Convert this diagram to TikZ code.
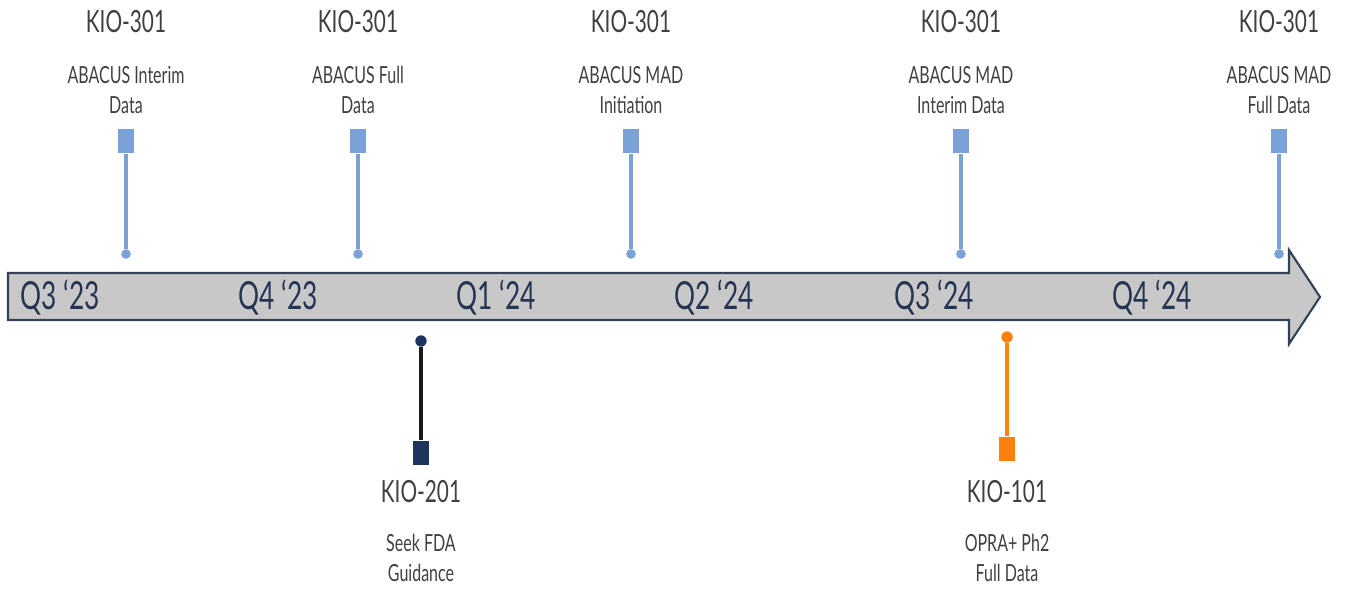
\documentclass[tikz,border=0pt]{standalone}
\usepackage{fontspec}
\setmainfont{Lato}[FakeStretch=0.68]
\usetikzlibrary{positioning, calc}

\definecolor{mileblue}{RGB}{122,162,214}
\definecolor{milenavy}{RGB}{31,52,92}
\definecolor{mileorange}{RGB}{255,128,10}
\definecolor{bargray}{RGB}{200,200,200}
\definecolor{barline}{RGB}{52,66,88}
\definecolor{qtext}{RGB}{38,52,84}
\definecolor{ltext}{RGB}{64,64,64}

\begin{document}
\begin{tikzpicture}[
		x=0.02cm, y=-0.02cm,
		stem/.style={line width=1.9pt}
	]
	\tikzstyle{Flag} = [ %marker square at the end of a stem
		rectangle,
		inner sep=0pt,
		minimum width=9.6pt,
		minimum height=14pt
	]
	\tikzstyle{Pin} = [
		circle,
		inner sep=0pt,
		minimum size=5.5pt
	]
	\tikzstyle{Code} = [
		text=ltext,
		font=\fontsize{17.4}{20}\selectfont
	]
	\tikzstyle{Event} = [
		text=ltext,
		align=center,
		font=\fontsize{13.4}{17}\selectfont
	]
	\tikzstyle{Quarter} = [
		text=qtext,
		font=\fontsize{22}{24}\selectfont
	]

	\useasboundingbox (0,0) rectangle (1349,589);

	% the time bar
	\draw[fill=bargray, draw=barline, line width=1.2pt]
		(8,273) -- (1289,273) -- (1289,250) -- (1320,297) -- (1289,344)
		-- (1289,320) -- (8,320) -- cycle;
	\node (q1) [Quarter] at (60,298) {Q3 ‘23};
	\node (q2) [Quarter] at (278,298) {Q4 ‘23};
	\node (q3) [Quarter] at (496,298) {Q1 ‘24};
	\node (q4) [Quarter] at (714,298) {Q2 ‘24};
	\node (q5) [Quarter] at (934,298) {Q3 ‘24};
	\node (q6) [Quarter] at (1152,298) {Q4 ‘24};

	% milestones above the bar
	\node (f1) [Flag, fill=mileblue] at (126,141) {};
	\node (p1) [Pin, fill=mileblue] at (126,254) {};
	\node (k1) [Code] at (126,22) {KIO-301};
	\node (e1) [Event] at (126,90) {ABACUS Interim\\Data};
	\draw[stem, mileblue] (f1) -- (p1);

	\node (f2) [Flag, fill=mileblue] at (358,141) {};
	\node (p2) [Pin, fill=mileblue] at (358,254) {};
	\node (k2) [Code] at (358,22) {KIO-301};
	\node (e2) [Event] at (358,90) {ABACUS Full\\Data};
	\draw[stem, mileblue] (f2) -- (p2);

	\node (f3) [Flag, fill=mileblue] at (631,141) {};
	\node (p3) [Pin, fill=mileblue] at (631,254) {};
	\node (k3) [Code] at (631,22) {KIO-301};
	\node (e3) [Event] at (631,90) {ABACUS MAD\\Initiation};
	\draw[stem, mileblue] (f3) -- (p3);

	\node (f4) [Flag, fill=mileblue] at (961,141) {};
	\node (p4) [Pin, fill=mileblue] at (961,254) {};
	\node (k4) [Code] at (961,22) {KIO-301};
	\node (e4) [Event] at (961,90) {ABACUS MAD\\Interim Data};
	\draw[stem, mileblue] (f4) -- (p4);

	\node (f5) [Flag, fill=mileblue] at (1279,141) {};
	\node (p5) [Pin, fill=mileblue] at (1279,254) {};
	\node (k5) [Code] at (1279,22) {KIO-301};
	\node (e5) [Event] at (1279,90) {ABACUS MAD\\Full Data};
	\draw[stem, mileblue] (f5) -- (p5);

	% milestones below the bar
	\node (f6) [Flag, fill=milenavy] at (421,453) {};
	\node (p6) [Pin, fill=milenavy, minimum size=6.5pt] at (421,341) {};
	\node (k6) [Code] at (421,492) {KIO-201};
	\node (e6) [Event] at (421,558) {Seek FDA\\Guidance};
	\draw[stem, black!90] (p6) -- (f6);

	\node (f7) [Flag, fill=mileorange] at (1007,449) {};
	\node (p7) [Pin, fill=mileorange, minimum size=6.5pt] at (1007,337) {};
	\node (k7) [Code] at (1007,492) {KIO-101};
	\node (e7) [Event] at (1007,558) {OPRA+ Ph2\\Full Data};
	\draw[stem, mileorange] (p7) -- (f7);
\end{tikzpicture}
\end{document}
